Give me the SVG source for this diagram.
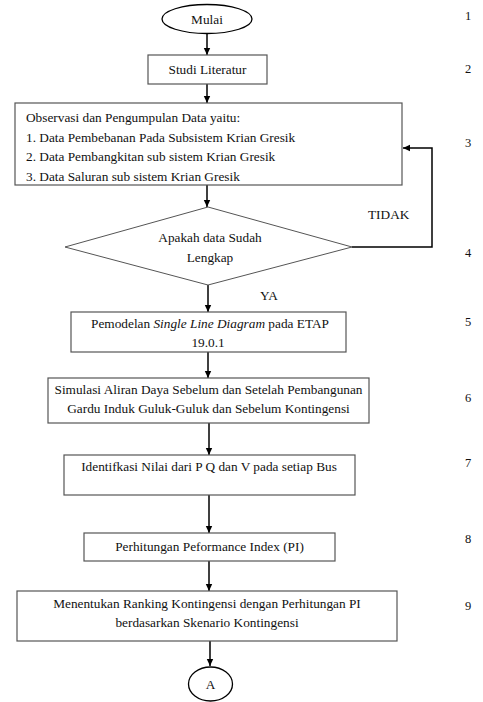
<svg xmlns="http://www.w3.org/2000/svg" width="483" height="702" viewBox="0 0 483 702">
<defs>
<marker id="ah" markerWidth="8" markerHeight="8" refX="7" refY="4" orient="auto" markerUnits="userSpaceOnUse">
<path d="M0,0.8 L7,4 L0,7.2 Z" fill="#000"/>
</marker>
<style>
.box{fill:#fff;stroke:#555;stroke-width:1.2}
.t{font-size:13.3px;fill:#111}
.c{text-anchor:middle}
.n{font-size:12.5px;fill:#111;text-anchor:middle}
.ln{fill:none;stroke:#000;stroke-width:1.5}
</style>
</defs>
<rect width="483" height="702" fill="#fff"/>
<g font-family="'Liberation Serif', 'Times New Roman', 'DejaVu Serif', serif">
<g id="connectors">
<line class="ln" x1="207" y1="33" x2="207" y2="55" marker-end="url(#ah)"/>
<line class="ln" x1="207" y1="84" x2="207" y2="103" marker-end="url(#ah)"/>
<line class="ln" x1="207" y1="185" x2="207" y2="207" marker-end="url(#ah)"/>
<line class="ln" x1="208" y1="285" x2="208" y2="312" marker-end="url(#ah)"/>
<line class="ln" x1="208" y1="352" x2="208" y2="378" marker-end="url(#ah)"/>
<line class="ln" x1="209" y1="423" x2="209" y2="455" marker-end="url(#ah)"/>
<line class="ln" x1="209" y1="495" x2="209" y2="533" marker-end="url(#ah)"/>
<line class="ln" x1="209" y1="561" x2="209" y2="591" marker-end="url(#ah)"/>
<line class="ln" x1="210" y1="641" x2="210" y2="666" marker-end="url(#ah)"/>
<polyline class="ln" points="352,247 432,247 432,148 403,148" marker-end="url(#ah)"/>
<text class="t" x="368" y="219">TIDAK</text>
<text class="t" x="260" y="300">YA</text>
</g>
<g id="n1">
<ellipse cx="207" cy="19" rx="45" ry="14.5" fill="#fff" stroke="#000" stroke-width="1.3"/>
<text class="t c" x="207" y="23.5">Mulai</text>
</g>
<g id="n2">
<rect class="box" x="148" y="55" width="119" height="29"/>
<text class="t c" x="207.5" y="74">Studi Literatur</text>
</g>
<g id="n3">
<rect class="box" x="15" y="103" width="387" height="82"/>
<text class="t" x="26" y="122">Observasi dan Pengumpulan Data yaitu:</text>
<text class="t" x="26" y="141.5">1. Data Pembebanan Pada Subsistem Krian Gresik</text>
<text class="t" x="26" y="161">2. Data Pembangkitan sub sistem Krian Gresik</text>
<text class="t" x="26" y="180.5">3. Data Saluran sub sistem Krian Gresik</text>
</g>
<g id="n4">
<polygon points="208,207 352,247 208,285 65,247" fill="#fff" stroke="#555" stroke-width="1"/>
<text class="t c" x="210" y="242">Apakah data Sudah</text>
<text class="t c" x="210" y="262">Lengkap</text>
</g>
<g id="n5">
<rect class="box" x="71" y="312" width="275" height="40"/>
<text class="t c" x="210" y="327.5">Pemodelan <tspan font-style="italic">Single Line Diagram</tspan> pada ETAP</text>
<text class="t c" x="208" y="347">19.0.1</text>
</g>
<g id="n6">
<rect class="box" x="48" y="378" width="321" height="45"/>
<text class="t c" x="208.5" y="393.5">Simulasi Aliran Daya Sebelum dan Setelah Pembangunan</text>
<text class="t c" x="208.5" y="413">Gardu Induk Guluk-Guluk dan Sebelum Kontingensi</text>
</g>
<g id="n7">
<rect class="box" x="64" y="455" width="291" height="40"/>
<text class="t c" x="209" y="471">Identifkasi Nilai dari P Q dan V pada setiap Bus</text>
</g>
<g id="n8">
<rect class="box" x="84" y="533" width="251" height="28"/>
<text class="t c" x="209.5" y="551">Perhitungan Peformance Index (PI)</text>
</g>
<g id="n9">
<rect class="box" x="17" y="591" width="380" height="50"/>
<text class="t c" x="207" y="607.5">Menentukan Ranking Kontingensi dengan Perhitungan PI</text>
<text class="t c" x="207" y="627">berdasarkan Skenario Kontingensi</text>
</g>
<g id="n10">
<ellipse cx="210.5" cy="684" rx="22" ry="17" fill="#fff" stroke="#000" stroke-width="1.3"/>
<text class="t c" x="210.5" y="688.5">A</text>
</g>
<g id="labels">
<text class="n" x="468" y="20">1</text>
<text class="n" x="468" y="73">2</text>
<text class="n" x="468" y="147">3</text>
<text class="n" x="468" y="257">4</text>
<text class="n" x="468" y="326">5</text>
<text class="n" x="468" y="402">6</text>
<text class="n" x="468" y="467">7</text>
<text class="n" x="468" y="543">8</text>
<text class="n" x="468" y="610">9</text>
</g>
</g>
</svg>
